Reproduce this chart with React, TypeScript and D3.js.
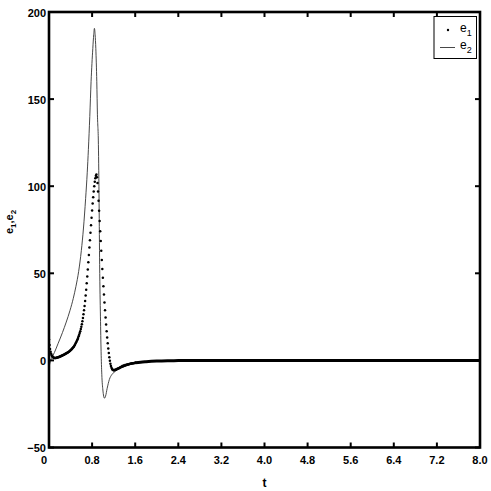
import React from "react";
import * as d3 from "d3";

// ---- data ----
const xTicks = [0, 0.8, 1.6, 2.4, 3.2, 4.0, 4.8, 5.6, 6.4, 7.2, 8.0];
const xTickLabels = ["0", "0.8", "1.6", "2.4", "3.2", "4.0", "4.8", "5.6", "6.4", "7.2", "8.0"];
const yTicks = [-50, 0, 50, 100, 150, 200];
const yTickLabels = ["\u221250", "0", "50", "100", "150", "200"];

// e1 sampled every 0.01 from t = 0 to 1.60 (drawn as dots)
const e1Step = 0.01;
const e1Dense = [
  12, 8.8, 6.5, 4.9, 3.8, 3.0, 2.4, 2.0, 1.7, 1.5, 1.4,
  1.4, 1.4, 1.4, 1.5, 1.6, 1.7, 1.8, 1.9, 2.0, 2.2,
  2.3, 2.4, 2.6, 2.7, 2.9, 3.0, 3.2, 3.3, 3.5, 3.7,
  3.9, 4.0, 4.2, 4.4, 4.6, 4.8, 5.0, 5.3, 5.5, 5.8,
  6.1, 6.4, 6.8, 7.1, 7.5, 7.9, 8.4, 8.9, 9.5, 10.1,
  10.7, 11.4, 12.1, 12.9, 13.8, 14.7, 15.7, 16.8, 18.0, 19.3,
  20.8, 22.5, 24.4, 26.5, 28.8, 31.3, 34.1, 37.2, 40.6, 44.3,
  48.2, 52.2, 56.3, 60.5, 64.8, 69.0, 73.3, 77.6, 81.9, 86.1,
  90.0, 93.6, 97.0, 100.0, 102.6, 104.6, 106.0, 106.7, 105.2, 101.8,
  97.0, 91.6, 85.9, 80.0, 74.2, 68.5, 63.0, 57.6, 52.4, 47.4,
  42.5, 37.8, 33.2, 28.8, 24.6, 20.6, 16.8, 13.2, 9.9, 6.9,
  4.2, 1.8, -0.2, -1.9, -3.2, -4.2, -4.9, -5.3, -5.5, -5.6,
  -5.6, -5.5, -5.4, -5.3, -5.2, -5.0, -4.9, -4.7, -4.6, -4.4,
  -4.3, -4.1, -4.0, -3.8, -3.7, -3.5, -3.4, -3.3, -3.1, -3.0,
  -2.9, -2.8, -2.7, -2.6, -2.5, -2.4, -2.3, -2.2, -2.1, -2.0,
  -1.95, -1.9, -1.85, -1.8, -1.7, -1.65, -1.6, -1.5, -1.45, -1.4,
];
// e1 tail (dense dots merge into a thick line)
const e1TailT = [1.6, 1.7, 1.8, 1.9, 2.0, 2.2, 2.4, 2.8, 3.2, 4.0, 8.0];
const e1TailV = [-1.4, -1.0, -0.75, -0.55, -0.4, -0.2, -0.1, 0, 0, 0, 0];

// e2 (thin line)
const e2T = [0, 0.03, 0.06, 0.10, 0.17, 0.25, 0.32, 0.39, 0.45, 0.50, 0.55, 0.60, 0.64, 0.68, 0.71, 0.731, 0.757, 0.781, 0.813, 0.830, 0.843, 0.856, 0.869, 0.887, 0.899, 0.917, 0.93, 0.94, 0.955, 0.967, 0.98, 1.00, 1.03, 1.05, 1.08, 1.12, 1.17, 1.23, 1.30, 1.35, 1.45, 1.60, 1.80, 2.00, 2.40, 3.00, 8.00];
const e2V = [-4, 0, 2, 4.5, 9.8, 16, 22, 28.7, 35.5, 42.5, 51, 63, 76, 93, 108, 121, 140, 160, 179, 187, 190.6, 187, 179, 160, 141, 124, 90, 55, 25, 5, -8, -17, -21.7, -20.5, -16, -11, -8, -6.3, -4.2, -2.8, -2.0, -1.4, -0.7, -0.4, -0.1, 0, 0];

const W = 491, H = 491;
const L = 49, R = 480, T = 12, B = 447.5;
const FONT = "'Liberation Sans', Arial, Helvetica, sans-serif";

export default function App() {
  const x = d3.scaleLinear().domain([0, 8]).range([L, R]);
  const y = d3.scaleLinear().domain([-50, 200]).range([B, T]);

  const e2Line = d3.line<number>()
    .x((_, i) => x(e2T[i]))
    .y((d) => y(d))
    .curve(d3.curveMonotoneX)(e2V) || "";
  const e1TailLine = d3.line<number>()
    .x((_, i) => x(e1TailT[i]))
    .y((d) => y(d))
    .curve(d3.curveMonotoneX)(e1TailV) || "";

  const tk = 5;
  return (
    <svg width={W} height={H} style={{ position: "absolute", left: 0, top: 0, background: "#fff" }}>
      <rect x={0} y={0} width={W} height={H} fill="#fff" />
      <defs>
        <clipPath id="plot">
          <rect x={L} y={T} width={R - L} height={B - T} />
        </clipPath>
      </defs>
      <g clipPath="url(#plot)">
        <path d={e2Line} fill="none" stroke="#333" strokeWidth={0.9} />
        <path d={e1TailLine} fill="none" stroke="#000" strokeWidth={3} />
        {e1Dense.map((v, i) => (
          <circle key={i} cx={x(i * e1Step)} cy={y(v)} r={1.25} fill="#000" />
        ))}
      </g>
      {/* ticks */}
      {xTicks.map((t, i) => (
        <g key={"xt" + i}>
          <line x1={x(t)} x2={x(t)} y1={B} y2={B - tk} stroke="#000" strokeWidth={2} />
          <line x1={x(t)} x2={x(t)} y1={T} y2={T + tk} stroke="#000" strokeWidth={2} />
          <text x={x(t) + (i === 0 ? -5 : 0)} y={B + 16} textAnchor="middle" fontFamily={FONT} fontWeight="bold" fontSize={11}>
            {xTickLabels[i]}
          </text>
        </g>
      ))}
      {yTicks.map((t, i) => (
        <g key={"yt" + i}>
          <line x1={L} x2={L + tk} y1={y(t)} y2={y(t)} stroke="#000" strokeWidth={2} />
          <line x1={R} x2={R - tk} y1={y(t)} y2={y(t)} stroke="#000" strokeWidth={2} />
          <text x={L - 3} y={y(t) + 4.5} textAnchor="end" fontFamily={FONT} fontWeight="bold" fontSize={11}>
            {yTickLabels[i]}
          </text>
        </g>
      ))}
      {/* axes box */}
      <rect x={L} y={T} width={R - L} height={B - T} fill="none" stroke="#000" strokeWidth={2.6} />
      {/* axis labels */}
      <text x={(L + R) / 2} y={487} textAnchor="middle" fontFamily={FONT} fontWeight="bold" fontSize={12}>t</text>
      <text transform={`translate(13,222) rotate(-90)`} textAnchor="middle" fontFamily={FONT} fontWeight="bold" fontSize={11}>
        e<tspan fontSize={8} dy={3}>1</tspan><tspan dy={-3}>,e</tspan><tspan fontSize={8} dy={3}>2</tspan>
      </text>
      {/* legend */}
      <g>
        <rect x={434} y={16.5} width={42.5} height={42} fill="#fff" stroke="#000" strokeWidth={1} />
        <circle cx={448} cy={30} r={1.2} fill="#000" />
        <text x={460} y={32} fontFamily={FONT} fontSize={12}>
          e<tspan fontSize={9} dy={4}>1</tspan>
        </text>
        <line x1={440} x2={455} y1={47.5} y2={47.5} stroke="#333" strokeWidth={0.9} />
        <text x={460} y={49} fontFamily={FONT} fontSize={12}>
          e<tspan fontSize={9} dy={4}>2</tspan>
        </text>
      </g>
    </svg>
  );
}
